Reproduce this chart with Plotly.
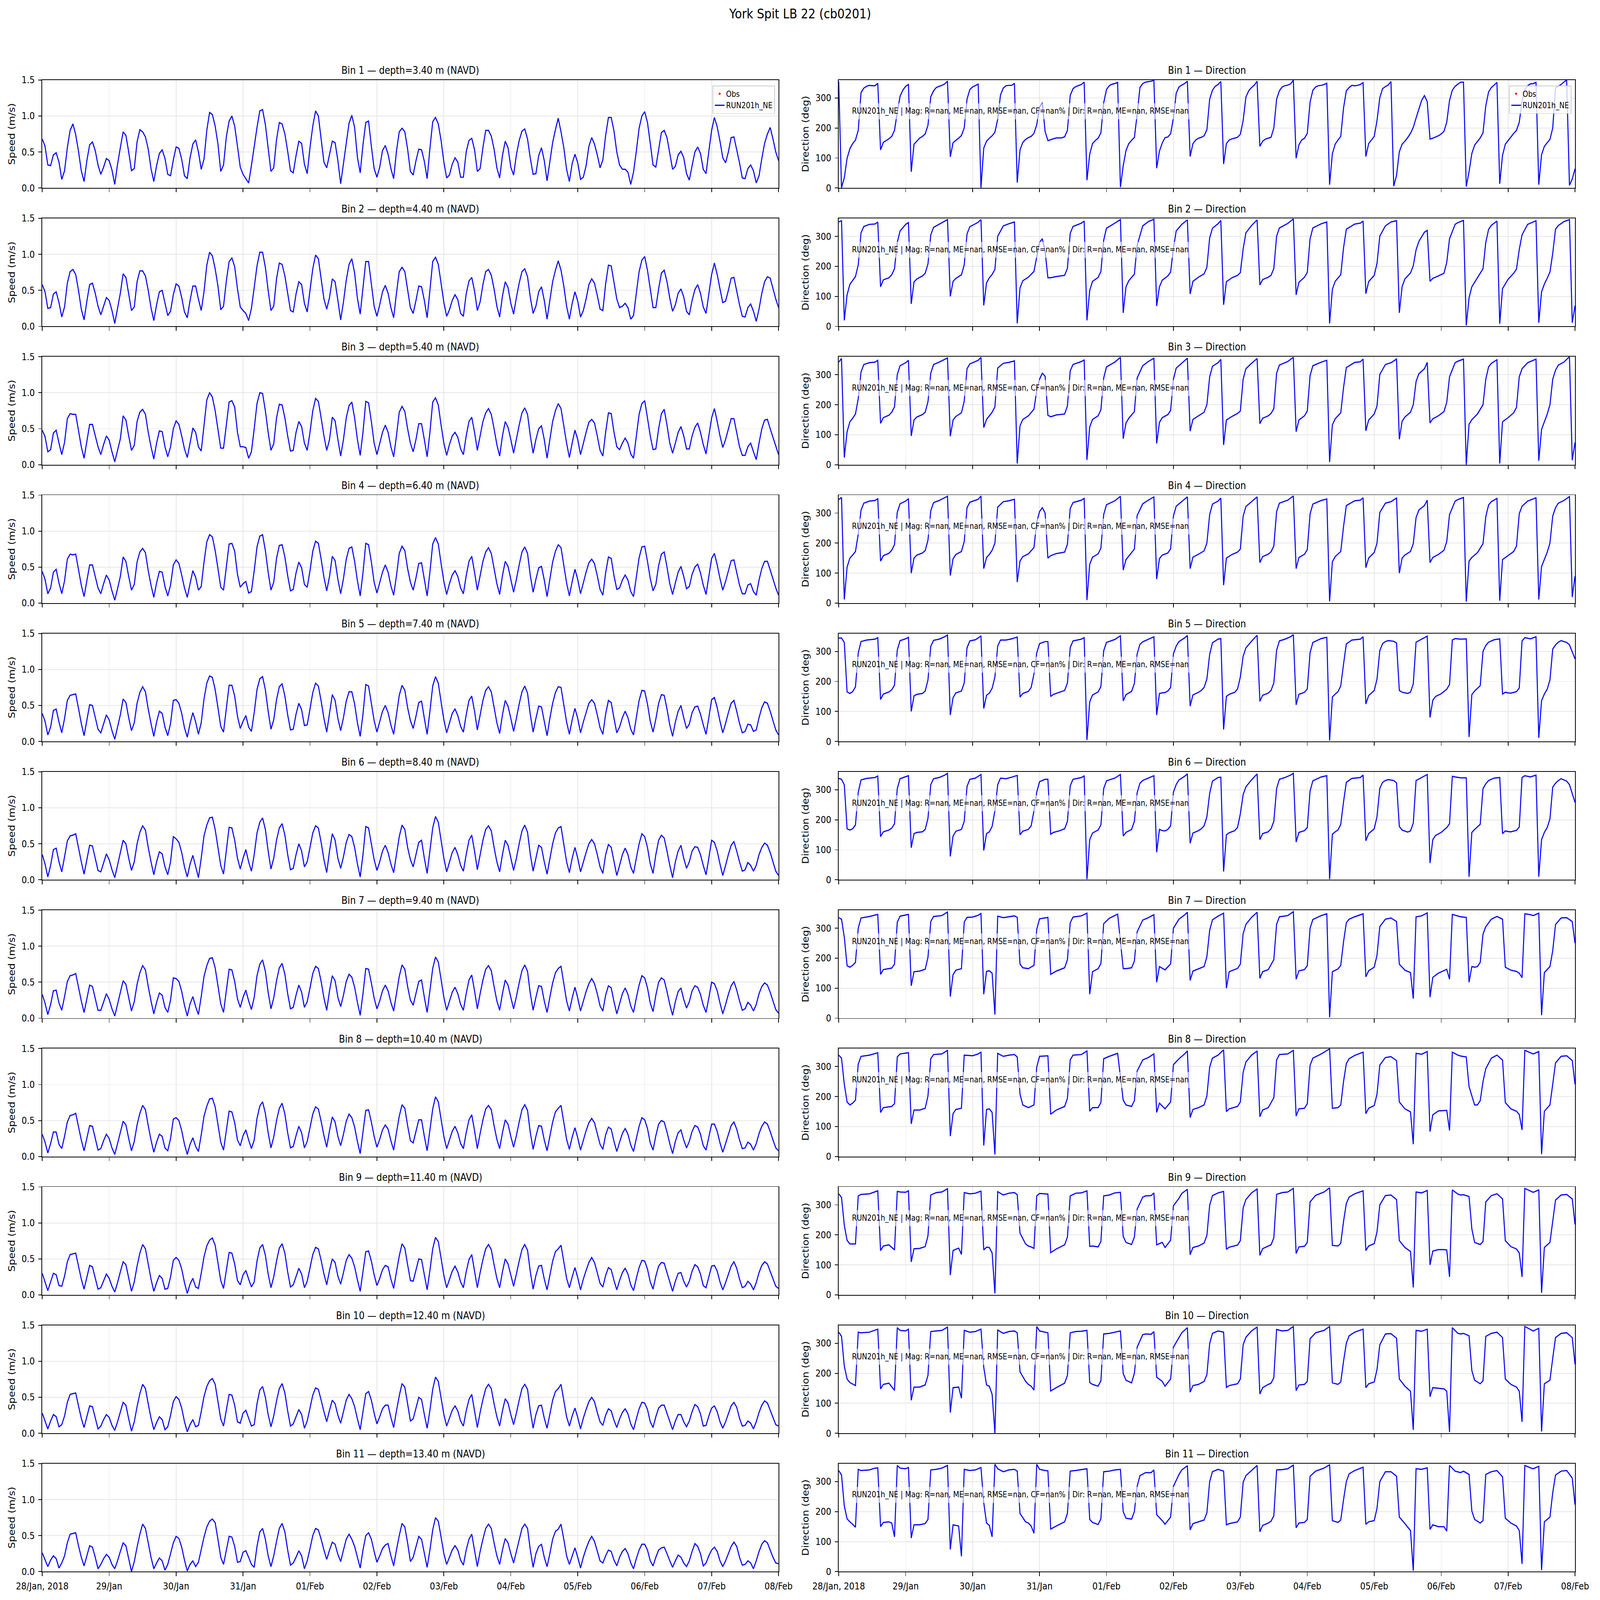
import numpy as np
import pandas as pd
import plotly.graph_objects as go

# ---------------- data ----------------
T0 = pd.Timestamp("2018-01-28 00:00:00")
tick_labels = ["28/Jan, 2018", "29/Jan", "30/Jan", "31/Jan", "01/Feb", "02/Feb",
               "03/Feb", "04/Feb", "05/Feb", "06/Feb", "07/Feb", "08/Feb"]
depths = [3.40, 4.40, 5.40, 6.40, 7.40, 8.40, 9.40, 10.40, 11.40, 12.40, 13.40]
run_name = "RUN201h_NE"
obs_name = "Obs"
stats_text = "RUN201h_NE | Mag: R=nan, ME=nan, RMSE=nan, CF=nan% | Dir: R=nan, ME=nan, RMSE=nan"

# hourly speed (m/s), 28 Jan 00:00 .. 08 Feb 00:00
spd_b1 = [.68,.58,.32,.31,.46,.49,.36,.12,.24,.56,.80,.89,.74,.51,.24,.09,.38,.60,.64,.52,.32,.19,.29,.41,
          .38,.25,.05,.33,.56,.78,.73,.50,.24,.27,.64,.81,.78,.71,.54,.27,.09,.31,.48,.53,.41,.19,.17,.39,
          .57,.55,.40,.17,.13,.42,.61,.67,.50,.26,.40,.80,1.05,1.02,.86,.61,.23,.32,.71,.93,1.00,.86,.58,.29,
          .19,.13,.07,.31,.58,.84,1.07,1.09,.88,.55,.23,.28,.67,.91,.89,.75,.51,.24,.21,.45,.65,.62,.33,.20,
          .56,.86,1.07,1.00,.67,.36,.28,.46,.65,.63,.38,.06,.34,.64,.90,1.01,.84,.43,.21,.60,.91,.93,.58,.27,
          .15,.29,.52,.59,.47,.27,.13,.51,.78,.83,.78,.54,.23,.18,.38,.54,.53,.37,.13,.55,.92,.98,.89,.66,
          .36,.14,.18,.33,.42,.36,.15,.15,.50,.66,.69,.53,.23,.27,.56,.80,.80,.72,.54,.28,.14,.45,.65,.56,
          .29,.18,.46,.66,.79,.82,.68,.41,.19,.20,.45,.56,.38,.10,.36,.63,.81,.97,.78,.56,.26,.09,.34,.47,
          .35,.12,.15,.31,.58,.70,.61,.46,.28,.39,.73,.98,.98,.79,.50,.32,.26,.26,.22,.05,.22,.51,.83,1.00,
          1.06,.91,.62,.32,.29,.53,.77,.80,.70,.48,.26,.30,.46,.51,.42,.20,.11,.31,.50,.57,.48,.26,.20,.51,
          .80,.98,.85,.65,.42,.35,.50,.70,.71,.53,.35,.14,.13,.27,.32,.24,.07,.17,.41,.62,.75,.84,.68,.50,
          .38]
spd_b2 = [.58,.48,.25,.26,.45,.48,.33,.13,.27,.60,.76,.79,.72,.50,.24,.09,.35,.58,.60,.46,.28,.16,.28,.40,
          .36,.22,.04,.26,.46,.73,.68,.45,.22,.27,.62,.77,.77,.70,.50,.26,.08,.30,.48,.50,.33,.15,.21,.44,
          .59,.56,.40,.20,.12,.36,.56,.56,.38,.22,.48,.85,1.03,.98,.80,.56,.23,.28,.63,.90,.95,.83,.52,.27,
          .22,.18,.08,.25,.54,.84,1.03,1.03,.82,.50,.22,.28,.66,.88,.86,.70,.46,.22,.20,.45,.62,.58,.32,.20,
          .50,.80,.99,.94,.66,.38,.24,.40,.66,.62,.36,.09,.34,.64,.86,.94,.74,.39,.17,.52,.90,.90,.59,.28,
          .14,.30,.48,.57,.46,.26,.12,.46,.76,.82,.76,.52,.26,.18,.36,.56,.55,.36,.12,.50,.90,.96,.86,.60,
          .33,.14,.23,.36,.44,.37,.18,.14,.45,.63,.68,.49,.22,.34,.58,.76,.79,.71,.52,.28,.13,.42,.62,.54,
          .32,.17,.40,.60,.76,.80,.69,.40,.18,.28,.48,.55,.36,.10,.36,.62,.78,.91,.78,.56,.28,.10,.32,.48,
          .35,.13,.22,.38,.58,.66,.60,.43,.24,.22,.59,.85,.84,.62,.38,.26,.28,.32,.26,.10,.15,.46,.76,.92,
          .97,.78,.51,.26,.26,.52,.74,.78,.62,.39,.21,.30,.46,.52,.41,.21,.16,.36,.51,.58,.46,.27,.18,.46,
          .72,.88,.72,.52,.33,.35,.50,.67,.68,.49,.30,.14,.13,.26,.31,.21,.07,.24,.46,.62,.69,.67,.53,.38,
          .26]
spd_b3 = [.48,.39,.18,.21,.44,.48,.30,.14,.31,.64,.71,.70,.70,.48,.25,.09,.32,.56,.56,.40,.25,.14,.28,.40,
          .34,.18,.04,.20,.36,.68,.62,.40,.20,.27,.60,.73,.77,.70,.45,.25,.08,.30,.47,.46,.25,.11,.25,.50,
          .61,.56,.40,.22,.10,.30,.51,.45,.25,.19,.55,.90,1.00,.94,.75,.50,.23,.23,.55,.87,.89,.80,.45,.25,
          .25,.24,.09,.18,.50,.85,1.00,.99,.75,.45,.20,.29,.65,.84,.83,.65,.40,.19,.20,.45,.60,.53,.30,.20,
          .45,.75,.92,.88,.65,.40,.20,.35,.66,.61,.35,.12,.35,.65,.82,.87,.65,.35,.13,.45,.88,.86,.60,.30,
          .14,.30,.45,.55,.45,.25,.11,.40,.73,.81,.74,.50,.30,.18,.35,.57,.57,.35,.11,.45,.87,.93,.83,.55,
          .30,.13,.28,.40,.45,.38,.22,.14,.40,.60,.66,.45,.20,.40,.60,.72,.78,.70,.50,.28,.12,.40,.60,.52,
          .35,.16,.35,.55,.72,.79,.70,.40,.16,.35,.50,.54,.35,.09,.35,.60,.75,.85,.78,.55,.30,.10,.30,.48,
          .35,.14,.30,.45,.59,.63,.58,.40,.20,.12,.45,.72,.71,.45,.25,.21,.30,.37,.30,.15,.09,.40,.70,.85,
          .89,.65,.40,.21,.22,.50,.71,.77,.55,.30,.16,.30,.45,.53,.40,.22,.22,.40,.52,.58,.45,.28,.15,.40,
          .65,.78,.60,.40,.24,.35,.50,.64,.64,.45,.25,.13,.13,.25,.30,.18,.07,.30,.50,.62,.63,.50,.38,.25,
          .14]
spd_b4 = [.44,.33,.13,.21,.43,.47,.28,.13,.31,.61,.68,.67,.68,.47,.25,.09,.31,.53,.53,.37,.21,.13,.27,.39,
          .32,.17,.04,.20,.37,.64,.58,.37,.18,.26,.57,.71,.76,.70,.45,.25,.08,.28,.44,.43,.23,.10,.25,.53,
          .60,.55,.39,.21,.08,.27,.45,.36,.18,.23,.57,.85,.95,.92,.73,.48,.22,.18,.50,.82,.83,.72,.40,.22,
          .27,.30,.14,.16,.45,.78,.93,.95,.73,.43,.18,.29,.62,.80,.81,.64,.38,.17,.19,.42,.57,.49,.26,.22,
          .45,.72,.86,.83,.61,.36,.17,.37,.65,.59,.33,.13,.34,.61,.76,.78,.58,.31,.10,.42,.83,.81,.57,.29,
          .14,.28,.43,.53,.43,.24,.11,.38,.69,.79,.73,.48,.29,.18,.35,.55,.56,.33,.10,.43,.82,.91,.82,.55,
          .30,.12,.27,.39,.45,.37,.21,.13,.38,.58,.65,.43,.18,.38,.58,.71,.77,.69,.48,.27,.12,.38,.58,.51,
          .33,.15,.33,.53,.71,.78,.69,.38,.15,.33,.49,.51,.32,.09,.33,.57,.72,.81,.77,.53,.28,.10,.30,.47,
          .33,.13,.28,.43,.56,.61,.55,.38,.19,.11,.42,.64,.62,.38,.19,.21,.32,.39,.32,.16,.09,.37,.63,.78,
          .79,.58,.34,.17,.26,.52,.68,.71,.50,.27,.12,.28,.43,.51,.37,.20,.23,.40,.50,.54,.42,.25,.12,.37,
          .62,.69,.53,.34,.18,.30,.45,.59,.60,.43,.25,.13,.13,.25,.27,.16,.11,.32,.48,.58,.58,.46,.34,.21,
          .11]
spd_b5 = [.39,.28,.09,.20,.43,.45,.27,.12,.32,.57,.64,.65,.66,.46,.25,.08,.29,.51,.50,.33,.17,.12,.25,.37,
          .30,.15,.03,.20,.37,.59,.54,.33,.15,.26,.53,.68,.76,.69,.45,.25,.07,.27,.42,.39,.20,.08,.25,.57,
          .58,.53,.39,.19,.06,.25,.40,.27,.10,.26,.59,.81,.91,.89,.72,.47,.21,.13,.45,.78,.78,.63,.35,.18,
          .28,.36,.20,.14,.40,.72,.87,.90,.72,.42,.17,.30,.58,.76,.80,.63,.37,.16,.17,.38,.53,.44,.22,.23,
          .45,.68,.81,.77,.56,.32,.13,.38,.65,.57,.32,.15,.33,.56,.69,.69,.52,.26,.07,.38,.79,.77,.53,.29,
          .13,.27,.42,.50,.40,.23,.10,.37,.64,.78,.71,.47,.29,.18,.35,.54,.56,.32,.10,.42,.77,.90,.81,.55,
          .30,.12,.26,.39,.45,.36,.21,.13,.37,.57,.63,.42,.16,.37,.57,.71,.76,.69,.47,.26,.11,.37,.57,.49,
          .32,.14,.32,.52,.69,.77,.67,.37,.13,.32,.49,.48,.28,.08,.32,.53,.68,.76,.75,.52,.27,.10,.30,.46,
          .32,.12,.27,.40,.53,.58,.53,.37,.19,.10,.38,.57,.54,.32,.12,.20,.33,.42,.33,.17,.09,.33,.57,.71,
          .70,.52,.28,.13,.31,.53,.65,.64,.45,.23,.07,.27,.42,.50,.33,.18,.24,.40,.48,.49,.38,.23,.10,.33,
          .58,.61,.47,.28,.12,.25,.40,.53,.57,.42,.25,.12,.14,.24,.23,.14,.16,.33,.47,.55,.53,.42,.29,.16,
          .09]
spd_b6 = [.35,.22,.04,.20,.42,.44,.25,.11,.32,.54,.61,.62,.64,.45,.25,.08,.28,.48,.47,.30,.13,.11,.24,.36,
          .28,.14,.03,.20,.38,.55,.50,.30,.13,.25,.50,.66,.75,.69,.45,.25,.07,.25,.39,.36,.18,.07,.25,.60,
          .57,.52,.38,.18,.04,.22,.34,.18,.03,.30,.61,.76,.86,.87,.70,.45,.20,.08,.40,.73,.72,.55,.30,.15,
          .30,.42,.25,.12,.35,.65,.80,.86,.70,.40,.15,.30,.55,.72,.78,.62,.35,.14,.16,.35,.50,.40,.18,.25,
          .45,.65,.75,.72,.52,.28,.10,.40,.64,.55,.30,.16,.32,.52,.63,.60,.45,.22,.04,.35,.74,.72,.50,.28,
          .13,.25,.40,.48,.38,.22,.10,.35,.60,.76,.70,.45,.28,.18,.35,.52,.55,.30,.09,.40,.72,.88,.80,.55,
          .30,.11,.25,.38,.45,.35,.20,.12,.35,.55,.62,.40,.14,.35,.55,.70,.75,.68,.45,.25,.11,.35,.55,.48,
          .30,.13,.30,.50,.68,.76,.66,.35,.12,.30,.48,.45,.25,.08,.30,.50,.65,.72,.74,.50,.25,.10,.30,.45,
          .30,.11,.25,.38,.50,.56,.50,.35,.18,.09,.35,.49,.45,.25,.06,.20,.35,.44,.35,.18,.09,.30,.50,.64,
          .60,.45,.22,.09,.35,.55,.62,.58,.40,.20,.03,.25,.40,.48,.30,.16,.25,.40,.46,.45,.35,.20,.07,.30,
          .55,.52,.40,.22,.06,.20,.35,.48,.53,.40,.25,.12,.14,.24,.20,.12,.20,.35,.45,.51,.48,.38,.25,.12,
          .06]
spd_b7 = [.33,.21,.05,.19,.38,.39,.21,.11,.30,.51,.59,.60,.62,.43,.24,.08,.27,.46,.44,.28,.11,.11,.23,.34,
          .26,.13,.03,.19,.36,.52,.47,.28,.10,.23,.47,.63,.73,.67,.44,.24,.06,.22,.35,.32,.15,.08,.25,.56,
          .55,.51,.37,.18,.03,.20,.30,.16,.05,.30,.58,.73,.83,.84,.70,.45,.20,.08,.38,.68,.67,.51,.27,.15,
          .29,.39,.24,.12,.29,.59,.75,.81,.65,.36,.13,.28,.52,.70,.76,.61,.34,.13,.15,.32,.46,.36,.15,.23,
          .42,.62,.72,.69,.51,.28,.11,.38,.59,.52,.29,.16,.32,.51,.61,.57,.43,.22,.04,.34,.69,.68,.49,.28,
          .13,.24,.38,.46,.38,.22,.10,.34,.58,.74,.68,.44,.25,.18,.35,.51,.53,.29,.08,.38,.69,.85,.78,.54,
          .29,.11,.24,.36,.43,.34,.19,.11,.34,.53,.60,.38,.13,.34,.53,.68,.73,.66,.44,.24,.11,.34,.53,.46,
          .29,.13,.30,.49,.66,.74,.65,.34,.11,.29,.45,.44,.24,.08,.29,.49,.63,.69,.72,.49,.24,.10,.28,.43,
          .28,.10,.24,.37,.48,.55,.48,.34,.17,.10,.32,.45,.42,.23,.06,.20,.34,.42,.33,.17,.08,.28,.46,.59,
          .56,.42,.21,.09,.32,.50,.56,.53,.37,.19,.04,.23,.37,.42,.26,.14,.23,.38,.45,.43,.33,.18,.08,.28,
          .50,.48,.38,.21,.06,.19,.33,.45,.51,.39,.24,.11,.13,.22,.18,.10,.19,.34,.44,.49,.46,.36,.24,.12,
          .07]
spd_b8 = [.31,.20,.05,.18,.34,.34,.17,.11,.28,.48,.57,.58,.60,.41,.23,.08,.26,.43,.42,.26,.09,.11,.22,.31,
          .25,.12,.03,.18,.34,.49,.44,.25,.08,.21,.44,.60,.71,.65,.43,.23,.06,.20,.31,.28,.12,.08,.25,.52,
          .54,.50,.36,.17,.03,.17,.26,.14,.07,.30,.56,.70,.80,.81,.69,.45,.20,.09,.36,.63,.62,.47,.23,.15,
          .29,.37,.23,.11,.23,.53,.70,.76,.60,.33,.12,.27,.50,.67,.74,.59,.33,.12,.14,.29,.42,.33,.12,.21,
          .40,.59,.69,.66,.49,.29,.13,.36,.55,.48,.28,.15,.31,.49,.59,.54,.41,.21,.04,.33,.64,.65,.48,.28,
          .13,.24,.37,.44,.38,.22,.09,.33,.56,.72,.67,.43,.22,.19,.35,.51,.51,.28,.08,.36,.66,.83,.76,.52,
          .28,.11,.23,.35,.42,.33,.18,.11,.33,.51,.58,.36,.11,.32,.51,.66,.71,.65,.43,.24,.11,.33,.51,.45,
          .28,.13,.29,.48,.65,.72,.64,.33,.10,.28,.43,.42,.23,.08,.28,.48,.62,.67,.71,.48,.24,.10,.27,.40,
          .26,.09,.23,.36,.47,.53,.47,.32,.17,.10,.30,.41,.38,.21,.07,.20,.32,.39,.31,.16,.07,.25,.42,.54,
          .51,.39,.19,.09,.29,.45,.50,.48,.34,.18,.04,.21,.33,.37,.23,.12,.21,.35,.43,.41,.31,.15,.09,.27,
          .45,.45,.35,.19,.06,.18,.31,.43,.48,.38,.23,.11,.12,.20,.17,.09,.18,.32,.42,.48,.45,.35,.23,.12,
          .08]
spd_b9 = [.30,.18,.06,.18,.30,.28,.13,.12,.26,.46,.56,.57,.58,.40,.22,.08,.24,.41,.39,.24,.08,.10,.20,.29,
          .23,.12,.04,.17,.32,.46,.42,.23,.05,.18,.40,.58,.70,.64,.42,.22,.05,.17,.27,.23,.08,.09,.25,.48,
          .52,.48,.36,.17,.02,.15,.23,.11,.09,.30,.53,.68,.76,.79,.69,.45,.20,.09,.34,.59,.58,.43,.20,.14,
          .28,.34,.22,.11,.18,.47,.65,.70,.55,.29,.10,.25,.47,.65,.71,.58,.32,.11,.14,.26,.37,.29,.10,.19,
          .37,.56,.66,.64,.48,.29,.14,.34,.50,.45,.26,.15,.31,.48,.56,.51,.39,.21,.05,.32,.60,.61,.47,.28,
          .13,.23,.35,.41,.39,.22,.09,.32,.54,.71,.65,.42,.20,.19,.35,.50,.49,.27,.07,.34,.64,.80,.74,.51,
          .27,.10,.22,.33,.40,.32,.18,.10,.32,.49,.56,.34,.10,.31,.49,.64,.70,.63,.42,.23,.10,.32,.50,.43,
          .27,.12,.29,.47,.63,.70,.62,.32,.08,.27,.40,.41,.22,.07,.27,.47,.60,.64,.69,.47,.23,.10,.25,.38,
          .24,.07,.22,.34,.45,.52,.45,.31,.16,.11,.27,.38,.35,.20,.07,.20,.31,.37,.29,.14,.06,.23,.38,.48,
          .47,.36,.18,.08,.26,.40,.45,.44,.31,.17,.05,.19,.30,.31,.19,.11,.19,.33,.42,.39,.29,.13,.10,.25,
          .40,.41,.33,.18,.07,.17,.29,.40,.46,.37,.22,.10,.12,.19,.15,.07,.17,.31,.41,.46,.43,.33,.22,.12,
          .09]
spd_b10 = [.28,.17,.06,.17,.26,.23,.09,.12,.24,.43,.54,.55,.56,.38,.21,.08,.23,.38,.37,.22,.06,.10,.19,.26,
           .22,.11,.04,.16,.30,.43,.39,.20,.03,.16,.37,.55,.68,.62,.41,.21,.05,.15,.23,.19,.05,.09,.25,.44,
           .51,.47,.35,.16,.02,.12,.19,.09,.11,.30,.51,.65,.73,.76,.68,.45,.20,.10,.32,.54,.53,.39,.16,.14,
           .28,.32,.21,.10,.12,.41,.60,.65,.50,.26,.09,.24,.45,.62,.69,.56,.31,.10,.13,.23,.33,.26,.07,.17,
           .35,.53,.63,.61,.46,.30,.16,.32,.46,.41,.25,.14,.30,.46,.54,.48,.37,.20,.05,.31,.55,.58,.46,.28,
           .13,.23,.34,.39,.39,.22,.08,.31,.52,.69,.64,.41,.17,.20,.35,.50,.47,.26,.07,.32,.61,.78,.72,.49,
           .26,.10,.21,.32,.38,.31,.17,.10,.31,.47,.54,.32,.08,.29,.47,.62,.68,.62,.41,.23,.10,.31,.48,.42,
           .26,.12,.28,.46,.62,.68,.61,.31,.07,.26,.38,.39,.21,.07,.26,.46,.58,.62,.68,.46,.23,.10,.24,.35,
           .22,.06,.21,.33,.44,.50,.44,.29,.16,.11,.25,.34,.31,.18,.08,.20,.29,.34,.27,.13,.05,.20,.34,.43,
           .42,.33,.16,.08,.23,.35,.39,.39,.28,.16,.05,.17,.26,.26,.16,.09,.17,.30,.40,.37,.27,.10,.11,.24,
           .35,.38,.30,.16,.07,.16,.27,.38,.43,.36,.21,.10,.11,.17,.14,.06,.16,.29,.39,.45,.42,.32,.21,.12,
           .10]
spd_b11 = [.26,.16,.07,.16,.22,.18,.05,.12,.22,.40,.52,.53,.54,.36,.20,.08,.22,.36,.34,.20,.04,.10,.18,.24,
           .20,.10,.04,.15,.28,.40,.36,.18,.00,.14,.34,.52,.66,.60,.40,.20,.04,.12,.19,.15,.02,.10,.25,.40,
           .49,.46,.34,.16,.01,.10,.15,.07,.13,.30,.48,.62,.70,.73,.68,.45,.20,.10,.30,.49,.48,.35,.13,.14,
           .27,.29,.20,.10,.06,.35,.55,.60,.45,.22,.07,.22,.42,.60,.67,.55,.30,.09,.12,.20,.29,.22,.04,.15,
           .32,.50,.60,.58,.45,.30,.17,.30,.41,.38,.24,.14,.30,.45,.52,.45,.35,.20,.05,.30,.50,.54,.45,.28,
           .13,.22,.32,.37,.39,.22,.08,.30,.50,.67,.62,.40,.14,.20,.35,.49,.45,.25,.06,.30,.58,.75,.70,.48,
           .25,.10,.20,.30,.36,.30,.16,.09,.30,.45,.52,.30,.07,.28,.45,.60,.66,.60,.40,.22,.10,.30,.46,.40,
           .25,.12,.28,.45,.60,.66,.60,.30,.06,.25,.35,.38,.20,.07,.25,.45,.56,.59,.66,.45,.22,.10,.22,.33,
           .20,.05,.20,.32,.42,.49,.42,.28,.15,.12,.22,.30,.28,.16,.08,.20,.28,.32,.25,.12,.04,.18,.30,.38,
           .38,.30,.15,.08,.20,.30,.33,.34,.25,.15,.06,.15,.23,.20,.12,.07,.15,.28,.39,.35,.25,.08,.12,.22,
           .30,.34,.28,.15,.07,.15,.25,.35,.41,.35,.20,.09,.10,.15,.12,.04,.15,.28,.38,.43,.40,.30,.20,.12,
           .11]

# hourly direction (deg) for bin 1
dir_b1 = [355,1,34,99,131,148,160,192,318,333,339,342,341,341,349,127,152,158,164,172,192,253,306,326,
          339,345,54,146,156,166,172,180,209,304,324,335,339,342,347,356,104,151,159,166,175,200,296,328,
          337,341,346,1,133,156,166,174,186,229,310,333,341,342,342,349,18,127,152,162,168,172,182,211,
          270,284,188,158,161,164,167,167,167,171,192,308,331,338,341,345,353,26,113,148,158,166,184,284,
          328,341,346,348,352,3,74,125,148,159,168,245,335,348,353,355,356,359,66,123,150,168,170,181,
          233,316,337,343,348,356,105,148,160,166,169,174,194,296,326,339,345,355,80,148,160,164,166,169,
          179,225,303,324,335,343,356,139,156,163,166,169,200,296,324,337,341,343,347,359,99,144,160,166,
          182,286,326,337,341,342,345,349,11,115,146,160,172,267,324,335,342,341,342,345,351,105,148,160,
          172,225,301,331,338,343,355,6,42,121,146,156,168,182,202,233,263,292,308,288,163,166,170,174,
          180,189,219,292,326,339,346,353,353,5,54,115,143,155,167,184,274,320,335,343,352,14,109,146,
          158,170,182,192,219,290,328,341,347,348,352,11,111,139,151,162,200,333,339,345,353,360,9,30,
          64]

# direction (hour since 28 Jan 00:00, deg) for bins 2-11
dir_b2 = [(0,348),(1,352),(2,20),(3,105),(4,140),(5,153),(6,166),(7,205),(8,312),(9,333),(11,340),(13,341),(14,348),(15,132),(16,155),(18,162),(19,172),(20,192),(21,280),(22,318),(24,340),(25,346),(26,75),(27,148),(28,158),(30,168),(31,177),(32,208),(33,305),(34,330),(36,340),(39,356),(40,100),(41,150),(42,160),(44,172),(45,205),(46,308),(47,332),(50,347),(51,356),(52,70),(53,145),(54,162),(55,173),(56,190),(57,300),(59,335),(61,342),(63,348),(64,10),(65,128),(66,152),(68,164),(70,183),(71,230),(72,280),(73,292),(74,250),(75,162),(76,162),(78,166),(81,170),(82,194),(83,310),(84,333),(87,344),(88,351),(89,20),(90,120),(91,150),(93,163),(94,183),(95,287),(96,327),(99,344),(101,356),(102,45),(103,132),(104,152),(106,174),(107,270),(109,335),(111,349),(113,357),(114,68),(115,132),(116,154),(118,168),(119,181),(120,260),(121,318),(123,340),(125,355),(126,108),(127,150),(129,164),(131,175),(132,197),(133,295),(134,327),(136,342),(137,353),(138,72),(139,149),(141,162),(143,170),(144,179),(145,258),(146,312),(148,336),(150,355),(151,138),(152,156),(154,164),(155,170),(156,193),(157,300),(158,328),(161,343),(163,358),(164,105),(165,147),(167,164),(168,180),(169,292),(170,328),(173,342),(175,348),(176,10),(177,124),(178,150),(180,172),(181,262),(182,324),(185,341),(187,344),(188,351),(189,109),(190,149),(192,170),(193,210),(194,301),(196,335),(198,348),(200,352),(201,45),(202,133),(203,158),(205,178),(206,202),(207,255),(208,283),(210,314),(211,320),(212,150),(213,160),(215,168),(217,177),(218,213),(219,292),(221,340),(222,346),(224,353),(225,3),(226,95),(227,132),(229,162),(231,192),(232,280),(233,323),(234,337),(236,351),(237,9),(238,126),(240,157),(242,177),(243,191),(244,256),(245,305),(247,340),(250,352),(251,12),(252,115),(253,141),(254,160),(255,181),(256,243),(257,324),(258,336),(260,349),(262,356),(263,12),(264,69)]
dir_b3 = [(0,342),(1,354),(2,24),(3,110),(4,143),(5,155),(6,169),(7,220),(8,309),(9,334),(11,340),(13,342),(14,348),(15,138),(16,157),(18,165),(19,175),(20,193),(21,301),(22,330),(24,340),(25,348),(26,96),(27,149),(28,159),(30,167),(31,175),(32,210),(33,305),(34,334),(36,342),(39,356),(40,95),(41,149),(42,161),(44,173),(45,212),(46,320),(47,336),(50,348),(51,358),(52,124),(53,151),(54,163),(55,175),(56,193),(57,322),(59,338),(61,341),(63,346),(64,4),(65,130),(66,151),(68,163),(70,185),(71,248),(72,285),(73,305),(74,295),(75,165),(76,160),(78,166),(81,169),(82,196),(83,313),(84,334),(87,344),(88,349),(89,16),(90,126),(91,151),(93,163),(94,183),(95,289),(96,326),(99,342),(101,358),(102,87),(103,139),(104,155),(106,177),(107,289),(109,330),(111,344),(113,355),(114,71),(115,141),(116,157),(118,167),(119,181),(120,285),(121,322),(123,338),(125,355),(126,112),(127,151),(129,163),(131,175),(132,200),(133,293),(134,328),(136,340),(137,351),(138,66),(139,149),(141,161),(143,171),(144,179),(145,285),(146,320),(148,338),(150,354),(151,137),(152,155),(154,163),(155,171),(156,187),(157,305),(158,332),(161,344),(163,358),(164,110),(165,149),(167,163),(168,179),(169,297),(170,330),(173,342),(175,348),(176,9),(177,133),(178,153),(180,173),(181,257),(182,324),(185,341),(187,343),(188,352),(189,113),(190,149),(192,169),(193,196),(194,301),(196,334),(198,340),(200,352),(201,85),(202,145),(203,159),(205,175),(206,200),(207,277),(208,303),(210,320),(211,341),(212,139),(213,153),(215,163),(217,177),(218,208),(219,293),(221,340),(222,345),(224,352),(225,0),(226,135),(227,150),(229,169),(231,200),(232,285),(233,326),(234,338),(236,350),(237,4),(238,143),(240,157),(242,173),(243,191),(244,293),(245,320),(247,340),(250,352),(251,13),(252,118),(253,143),(254,168),(255,200),(256,285),(257,315),(258,332),(260,342),(262,360),(263,15),(264,74)]
dir_b4 = [(0,345),(1,352),(2,12),(3,120),(4,150),(5,160),(6,172),(7,230),(8,310),(9,333),(11,340),(13,342),(14,348),(15,140),(16,158),(18,166),(19,176),(20,195),(21,303),(22,331),(24,340),(25,348),(26,100),(27,150),(28,160),(30,167),(31,175),(32,210),(33,308),(34,335),(36,342),(39,356),(40,92),(41,148),(42,162),(44,172),(45,205),(46,318),(47,336),(50,346),(51,357),(52,115),(53,152),(54,162),(55,176),(56,200),(57,320),(59,338),(61,341),(63,346),(64,70),(65,140),(66,155),(68,164),(70,185),(71,270),(72,305),(73,318),(74,300),(75,150),(76,158),(78,165),(81,170),(82,196),(83,315),(84,335),(87,343),(88,349),(89,10),(90,130),(91,153),(93,164),(94,183),(95,295),(96,328),(99,341),(101,356),(102,110),(103,145),(104,157),(106,180),(107,292),(109,331),(111,343),(113,354),(114,80),(115,148),(116,160),(118,167),(119,181),(120,290),(121,323),(123,338),(125,354),(126,115),(127,153),(129,163),(131,174),(132,200),(133,295),(134,330),(136,340),(137,350),(138,60),(139,150),(141,162),(143,170),(144,180),(145,290),(146,322),(148,338),(150,354),(151,135),(152,155),(154,163),(155,171),(156,190),(157,305),(158,333),(161,343),(163,357),(164,115),(165,152),(167,163),(168,178),(169,297),(170,330),(173,342),(175,347),(176,6),(177,138),(178,155),(180,172),(181,255),(182,325),(185,341),(187,343),(188,351),(189,118),(190,150),(192,169),(193,200),(194,302),(196,333),(198,338),(200,350),(201,100),(202,150),(203,160),(205,172),(206,198),(207,285),(208,310),(210,325),(211,343),(212,135),(213,152),(215,162),(217,176),(218,205),(219,295),(221,340),(222,345),(224,352),(225,5),(226,140),(227,152),(229,168),(231,198),(232,288),(233,327),(234,338),(236,349),(237,8),(238,145),(240,158),(242,172),(243,190),(244,298),(245,323),(247,340),(250,351),(251,12),(252,122),(253,146),(254,169),(255,200),(256,290),(257,318),(258,333),(260,342),(262,355),(263,20),(264,90)]
dir_b5 = [(0,345),(1,345),(2,330),(3,165),(4,160),(5,166),(6,182),(7,295),(8,333),(10,338),(13,341),(14,346),(15,140),(16,158),(18,165),(19,172),(20,188),(21,305),(22,336),(24,342),(25,347),(26,100),(27,152),(28,157),(30,160),(31,168),(32,205),(33,317),(34,337),(36,341),(38,349),(39,355),(40,88),(41,146),(42,162),(44,168),(45,195),(46,312),(47,335),(49,339),(50,345),(51,352),(52,110),(53,154),(54,161),(55,177),(56,215),(57,318),(58,338),(60,338),(62,342),(64,348),(65,148),(66,160),(68,167),(69,180),(70,225),(71,295),(72,326),(74,333),(75,333),(76,150),(77,157),(79,163),(81,170),(82,195),(83,313),(84,335),(87,341),(88,346),(89,5),(90,132),(91,155),(93,165),(94,183),(95,302),(96,330),(99,340),(101,352),(102,135),(103,156),(105,167),(106,193),(107,292),(108,324),(109,332),(111,340),(113,349),(114,88),(115,160),(116,162),(117,163),(118,168),(119,180),(120,292),(121,318),(122,333),(124,345),(125,353),(126,118),(127,155),(129,164),(130,170),(131,180),(132,208),(133,290),(134,329),(136,341),(137,343),(138,40),(139,150),(140,157),(142,164),(143,175),(144,215),(145,284),(146,312),(148,334),(150,354),(151,134),(152,154),(154,161),(155,170),(156,195),(157,304),(158,335),(160,341),(162,349),(163,356),(164,122),(165,157),(167,164),(168,175),(169,296),(170,330),(173,343),(175,347),(176,3),(177,148),(178,158),(179,166),(180,185),(181,258),(182,325),(184,338),(187,341),(188,349),(189,125),(190,153),(192,170),(193,208),(194,303),(195,326),(196,333),(197,336),(199,334),(200,328),(201,170),(202,164),(204,160),(205,164),(206,192),(207,331),(209,341),(211,351),(212,80),(213,137),(214,150),(216,159),(218,174),(219,190),(220,338),(221,343),(223,341),(225,342),(226,15),(227,156),(228,168),(230,186),(231,300),(232,320),(233,331),(235,339),(237,342),(238,158),(239,164),(240,162),(241,161),(243,166),(244,178),(245,335),(246,346),(248,342),(250,349),(251,12),(252,136),(253,158),(254,174),(255,205),(256,308),(257,322),(258,331),(259,336),(261,330),(262,322),(264,275)]
dir_b6 = [(0,338),(1,335),(2,317),(3,170),(4,166),(5,170),(6,183),(7,292),(8,333),(10,338),(13,341),(14,346),(15,144),(16,160),(18,166),(19,172),(20,187),(21,304),(22,337),(24,343),(25,347),(26,107),(27,154),(28,158),(30,160),(31,168),(32,205),(33,317),(34,337),(36,341),(38,349),(39,355),(40,78),(41,146),(42,162),(44,168),(45,195),(46,311),(47,335),(49,339),(50,345),(51,351),(52,98),(53,154),(54,160),(55,178),(56,230),(57,317),(58,339),(60,337),(62,342),(64,348),(65,150),(66,162),(68,168),(69,180),(70,230),(71,292),(72,327),(74,335),(75,335),(76,152),(77,158),(79,163),(81,170),(82,195),(83,313),(84,335),(87,341),(88,346),(89,2),(90,134),(91,156),(93,166),(94,183),(95,304),(96,330),(99,339),(101,351),(102,146),(103,158),(105,168),(106,195),(107,290),(108,322),(109,331),(111,339),(113,347),(114,92),(115,168),(116,164),(117,163),(118,168),(119,180),(120,292),(121,318),(122,333),(124,345),(125,353),(126,122),(127,156),(129,164),(130,170),(131,180),(132,210),(133,288),(134,329),(136,341),(137,342),(138,28),(139,150),(140,157),(142,164),(143,175),(144,220),(145,284),(146,310),(148,333),(150,353),(151,134),(152,154),(154,160),(155,170),(156,195),(157,304),(158,335),(160,341),(162,349),(163,355),(164,126),(165,158),(167,164),(168,174),(169,296),(170,330),(173,343),(175,347),(176,2),(177,152),(178,160),(179,166),(180,185),(181,260),(182,325),(184,338),(187,341),(188,349),(189,130),(190,154),(192,170),(193,211),(194,305),(195,325),(196,331),(197,334),(199,331),(200,323),(201,178),(202,166),(204,159),(205,163),(206,189),(207,331),(209,341),(211,351),(212,56),(213,134),(214,148),(216,158),(218,174),(219,187),(220,345),(221,343),(223,340),(225,340),(226,10),(227,158),(228,168),(230,185),(231,304),(232,320),(233,331),(235,339),(237,341),(238,154),(239,163),(240,161),(241,160),(243,165),(244,176),(245,341),(246,347),(248,343),(250,349),(251,10),(252,134),(253,158),(254,174),(255,203),(256,309),(257,322),(258,331),(259,337),(261,329),(262,317),(264,258)]
dir_b7 = [(0,335),(1,330),(2,270),(3,175),(4,170),(5,176),(6,186),(7,300),(8,334),(11,339),(14,346),(15,146),(16,162),(19,167),(20,180),(21,320),(22,340),(25,346),(26,108),(27,155),(29,157),(31,163),(32,203),(33,322),(34,339),(37,342),(39,354),(40,72),(41,145),(42,160),(44,165),(45,320),(46,336),(48,337),(50,343),(51,349),(52,80),(53,156),(54,158),(55,150),(56,12),(57,340),(59,335),(61,338),(63,341),(64,336),(65,180),(66,168),(68,165),(70,176),(71,296),(72,331),(75,336),(76,146),(78,157),(81,168),(82,195),(83,318),(84,337),(87,341),(89,350),(90,80),(91,155),(93,165),(94,182),(95,315),(97,333),(100,347),(102,165),(103,165),(105,168),(106,190),(107,288),(109,327),(111,335),(113,345),(114,120),(115,172),(117,161),(119,181),(120,300),(122,330),(124,344),(125,353),(126,126),(127,157),(129,164),(131,172),(132,205),(133,293),(134,328),(136,340),(138,350),(139,100),(140,155),(143,166),(144,180),(145,282),(146,313),(148,336),(150,353),(151,133),(152,155),(154,162),(156,195),(157,313),(158,338),(161,342),(163,355),(164,130),(165,158),(167,162),(168,175),(169,300),(170,329),(173,342),(175,348),(176,3),(177,155),(179,164),(180,176),(181,255),(182,318),(183,330),(185,338),(188,348),(189,138),(190,158),(192,170),(193,210),(194,305),(196,330),(198,334),(200,322),(201,180),(203,160),(205,152),(206,65),(207,338),(209,341),(211,351),(212,70),(213,136),(215,150),(218,163),(219,130),(220,346),(222,340),(223,338),(225,336),(226,120),(227,172),(228,170),(229,172),(230,186),(231,280),(232,305),(234,330),(236,339),(238,330),(239,170),(241,160),(243,156),(244,150),(245,135),(246,348),(248,345),(249,342),(251,350),(252,10),(253,152),(255,172),(256,225),(257,312),(259,334),(261,335),(263,322),(264,250)]
dir_b8 = [(0,338),(1,328),(2,241),(3,182),(4,172),(5,178),(6,188),(7,308),(8,334),(11,338),(14,346),(15,147),(16,163),(19,167),(20,176),(21,332),(22,342),(25,346),(26,109),(27,155),(29,155),(31,161),(32,202),(33,326),(34,340),(37,342),(39,354),(40,68),(41,143),(42,157),(44,161),(45,338),(48,336),(50,342),(51,348),(52,37),(53,157),(54,159),(55,147),(56,7),(57,344),(59,334),(61,338),(63,340),(64,332),(65,208),(66,172),(68,163),(70,172),(71,298),(72,334),(75,336),(76,141),(78,155),(81,167),(82,194),(83,322),(84,338),(87,340),(89,352),(90,151),(91,163),(93,163),(94,180),(95,326),(97,334),(100,344),(102,188),(103,172),(105,167),(106,186),(107,285),(109,322),(111,330),(113,342),(114,147),(115,178),(117,159),(119,182),(120,306),(122,326),(124,342),(125,352),(126,130),(127,157),(129,163),(131,172),(132,202),(133,298),(134,328),(136,338),(138,356),(139,150),(140,159),(143,167),(144,182),(145,281),(146,315),(148,338),(150,352),(151,133),(152,155),(154,163),(156,196),(157,322),(158,340),(161,342),(163,354),(164,135),(165,159),(167,161),(168,176),(169,304),(170,328),(173,342),(176,359),(177,161),(179,163),(180,172),(181,250),(182,310),(183,326),(185,337),(188,348),(189,143),(190,161),(192,170),(193,208),(194,305),(196,330),(198,333),(200,320),(201,182),(203,159),(205,149),(206,41),(207,344),(209,341),(211,350),(212,83),(213,139),(215,152),(218,154),(219,87),(220,348),(222,338),(223,335),(225,332),(226,233),(228,172),(229,172),(230,186),(231,250),(232,293),(234,328),(236,338),(238,322),(239,180),(241,159),(243,151),(244,140),(245,89),(246,354),(248,346),(249,342),(251,350),(252,8),(253,151),(255,172),(256,241),(257,312),(259,334),(261,336),(263,320),(264,241)]
dir_b9 = [(0,337),(1,325),(2,232),(3,182),(4,170),(6,170),(7,330),(8,335),(11,337),(14,347),(15,148),(16,163),(18,167),(20,150),(21,345),(22,343),(24,342),(25,347),(26,110),(27,154),(29,155),(31,161),(32,197),(33,333),(35,341),(37,343),(39,354),(40,66),(41,148),(43,156),(44,135),(45,341),(47,337),(49,339),(51,346),(52,150),(53,159),(54,158),(55,140),(56,5),(57,344),(59,333),(61,339),(63,341),(64,334),(65,206),(67,170),(68,163),(69,160),(70,155),(71,330),(72,338),(74,337),(75,336),(76,141),(78,153),(81,167),(82,193),(83,330),(85,339),(87,340),(89,347),(90,162),(91,163),(93,160),(94,178),(95,330),(97,333),(99,340),(101,342),(102,195),(103,175),(105,168),(106,193),(107,286),(109,326),(110,330),(112,331),(113,340),(114,167),(116,175),(117,158),(119,182),(120,297),(122,322),(123,338),(125,352),(126,134),(127,158),(129,163),(131,173),(132,198),(133,299),(134,331),(136,340),(138,345),(139,152),(140,159),(143,166),(144,181),(145,290),(146,318),(148,340),(150,353),(151,132),(152,154),(154,163),(155,167),(156,190),(157,335),(159,341),(161,343),(163,355),(164,138),(165,160),(167,162),(168,175),(169,310),(171,332),(174,343),(176,357),(177,165),(179,163),(180,172),(181,245),(182,305),(183,326),(185,337),(188,347),(189,148),(190,163),(192,171),(193,210),(194,300),(196,331),(198,333),(200,318),(201,181),(203,158),(205,145),(206,25),(207,343),(209,340),(211,348),(212,100),(213,146),(215,151),(217,151),(218,150),(219,60),(220,350),(222,336),(223,333),(224,334),(226,328),(227,220),(228,175),(230,168),(231,178),(232,310),(234,331),(236,337),(238,320),(239,181),(241,161),(243,153),(244,140),(245,60),(246,355),(248,346),(249,342),(251,350),(252,7),(253,158),(255,175),(256,245),(257,316),(259,333),(261,335),(263,320),(264,235)]
dir_b10 = [(0,337),(1,323),(2,224),(3,181),(4,169),(6,159),(7,337),(8,335),(11,337),(14,347),(15,148),(16,163),(18,167),(20,143),(21,352),(22,343),(24,341),(25,347),(26,110),(27,154),(29,154),(31,161),(32,193),(33,339),(35,341),(37,343),(39,354),(40,69),(41,152),(43,154),(44,117),(45,343),(47,337),(49,339),(51,347),(52,220),(53,161),(54,157),(55,130),(56,0),(57,344),(59,333),(61,339),(63,341),(64,335),(65,205),(67,173),(68,163),(69,157),(70,144),(71,356),(72,341),(74,337),(75,335),(76,141),(78,152),(81,167),(82,193),(83,335),(85,339),(87,340),(89,343),(90,169),(91,163),(93,157),(94,175),(95,331),(97,333),(99,337),(101,341),(102,199),(103,177),(105,168),(106,200),(107,287),(109,329),(110,331),(112,330),(113,339),(114,187),(116,173),(117,157),(119,181),(120,287),(122,319),(123,335),(125,352),(126,137),(127,159),(129,163),(131,173),(132,195),(133,299),(134,333),(136,341),(138,337),(139,153),(140,159),(143,165),(144,181),(145,295),(146,320),(148,341),(150,354),(151,131),(152,152),(154,163),(155,167),(156,185),(157,346),(159,341),(161,343),(163,356),(164,142),(165,161),(167,163),(168,173),(169,315),(171,335),(174,343),(176,356),(177,168),(179,163),(180,171),(181,240),(182,300),(183,325),(185,337),(188,347),(189,152),(190,165),(192,171),(193,213),(194,295),(196,331),(198,332),(200,317),(201,181),(203,157),(205,140),(206,11),(207,343),(209,340),(211,347),(212,122),(213,152),(215,150),(217,148),(218,140),(219,4),(220,352),(222,333),(223,331),(224,333),(226,325),(227,209),(228,177),(230,165),(231,175),(232,323),(234,333),(236,337),(238,319),(239,181),(241,163),(243,154),(244,140),(245,38),(246,356),(248,346),(249,341),(251,350),(252,6),(253,165),(255,177),(256,250),(257,319),(259,333),(261,335),(263,319),(264,230)]
dir_b11 = [(0,337),(1,322),(2,219),(3,176),(4,166),(5,158),(6,148),(7,341),(8,337),(11,339),(13,345),(14,346),(15,150),(16,164),(18,166),(19,162),(20,116),(21,354),(22,345),(24,343),(25,347),(26,112),(27,156),(29,156),(31,160),(32,174),(33,339),(35,341),(37,345),(39,354),(40,74),(41,156),(43,152),(44,51),(45,341),(47,337),(49,339),(51,347),(52,230),(53,162),(54,154),(55,116),(56,358),(57,343),(59,333),(61,339),(63,341),(64,335),(65,194),(67,166),(68,162),(69,152),(70,128),(71,358),(72,341),(74,337),(75,336),(76,142),(78,152),(81,166),(82,194),(83,335),(85,337),(87,340),(89,343),(90,174),(91,164),(93,157),(94,176),(95,333),(97,335),(99,339),(101,341),(102,200),(103,178),(105,175),(106,200),(107,284),(108,320),(110,330),(112,330),(113,339),(114,190),(116,170),(117,158),(119,182),(120,284),(122,324),(123,339),(125,353),(126,139),(127,160),(129,166),(131,172),(132,196),(133,300),(134,333),(136,341),(138,335),(139,156),(140,160),(143,166),(144,182),(145,298),(146,320),(148,337),(150,354),(151,133),(152,154),(154,162),(155,168),(156,186),(157,339),(159,340),(161,343),(163,355),(164,146),(165,162),(167,164),(168,174),(169,318),(171,335),(174,345),(176,356),(177,170),(179,164),(180,172),(181,240),(182,300),(183,326),(185,337),(188,348),(189,158),(190,166),(192,170),(193,211),(194,300),(196,333),(198,333),(200,318),(201,182),(203,160),(205,137),(206,3),(207,343),(209,341),(211,346),(212,141),(213,156),(215,150),(217,150),(218,135),(219,354),(221,335),(223,330),(224,335),(226,324),(227,202),(228,174),(230,162),(231,170),(232,324),(234,333),(236,337),(238,316),(239,178),(241,162),(243,152),(244,137),(245,26),(246,354),(248,346),(249,343),(251,351),(252,5),(253,166),(255,182),(256,263),(257,322),(259,335),(261,337),(263,312),(264,223)]

speed_series = [spd_b1, spd_b2, spd_b3, spd_b4, spd_b5, spd_b6, spd_b7, spd_b8, spd_b9, spd_b10, spd_b11]
dir_series = [dir_b2, dir_b3, dir_b4, dir_b5, dir_b6, dir_b7, dir_b8, dir_b9, dir_b10, dir_b11]

# ---------------- layout geometry ----------------
W, H = 5000, 4400
FONT = "DejaVu Sans"
BLUE = "#0000ff"
col_x = [(132 / W, 2433 / W), (2621 / W, 4922 / W)]
ROW_TOP0, ROW_STEP, ROW_H = 220, 380.5, 297


def row_dom(r):
    top = ROW_TOP0 + r * ROW_STEP
    return (1 - (top + ROW_H) / H, 1 - top / H)


def hourly_x(vals):
    return T0 + pd.to_timedelta(np.arange(len(vals)), unit="h")


def pairs_xy(pairs):
    hrs = [p[0] for p in pairs]
    vals = [p[1] for p in pairs]
    return T0 + pd.to_timedelta(hrs, unit="h"), vals


day_ticks = [(T0 + pd.Timedelta(days=i)).strftime("%Y-%m-%d %H:%M:%S") for i in range(12)]
x_range = [T0.strftime("%Y-%m-%d %H:%M:%S"), (T0 + pd.Timedelta(days=11)).strftime("%Y-%m-%d %H:%M:%S")]

fig = go.Figure()
layout = {}
annotations = []


def ax(n, kind):
    return kind if n == 1 else f"{kind}{n}"


# legend placeholders ("Obs" has no data)
fig.add_trace(go.Scatter(x=[None], y=[None], mode="markers", name=obs_name,
                         marker=dict(color="red", size=6), xaxis="x", yaxis="y",
                         legend="legend", showlegend=True, hoverinfo="skip"))
fig.add_trace(go.Scatter(x=[None], y=[None], mode="markers", name=obs_name,
                         marker=dict(color="red", size=6), xaxis="x2", yaxis="y2",
                         legend="legend2", showlegend=True, hoverinfo="skip"))

for r in range(11):
    y0, y1 = row_dom(r)
    for c in range(2):
        n = 2 * r + c + 1
        layout[ax(n, "xaxis")] = dict(
            domain=list(col_x[c]), anchor=ax(n, "y"), type="date", range=x_range,
            tickmode="array", tickvals=day_ticks, ticktext=tick_labels,
            showticklabels=(r == 10), ticks="outside", ticklen=10, tickwidth=2,
            tickcolor="black", ticklabelstandoff=6, automargin=False,
            tickfont=dict(family=FONT, size=26, color="black"),
            showline=True, linecolor="black", linewidth=2, mirror=True,
            showgrid=True, gridcolor="#e6e6e6", gridwidth=1.5, zeroline=False,
        )
        if c == 0:
            yv, yt, yr, ytitle = [0, 0.5, 1.0, 1.5], ["0.0", "0.5", "1.0", "1.5"], [0, 1.5], "Speed (m/s)"
        else:
            yv, yt, yr, ytitle = [0, 100, 200, 300], ["0", "100", "200", "300"], [0, 360], "Direction (deg)"
        layout[ax(n, "yaxis")] = dict(
            domain=[y0, y1], anchor=ax(n, "x"), range=yr, automargin=False,
            tickmode="array", tickvals=yv, ticktext=yt,
            ticks="outside", ticklen=10, tickwidth=2, tickcolor="black", ticklabelstandoff=6,
            tickfont=dict(family=FONT, size=26, color="black"),
            title=dict(text=ytitle, font=dict(family=FONT, size=28, color="black"), standoff=12),
            showline=True, linecolor="black", linewidth=2, mirror=True,
            showgrid=True, gridcolor="#e6e6e6", gridwidth=1.5, zeroline=False,
        )
        if c == 0:
            ttl = f"Bin {r + 1} \u2014 depth={depths[r]:.2f} m (NAVD)"
        else:
            ttl = f"Bin {r + 1} \u2014 Direction"
        annotations.append(dict(
            text=ttl, xref="paper", yref="paper", x=(col_x[c][0] + col_x[c][1]) / 2, y=y1,
            xanchor="center", yanchor="bottom", yshift=8, showarrow=False,
            font=dict(family=FONT, size=28, color="black")))
        if c == 1:
            annotations.append(dict(
                text=stats_text, xref=f"{ax(n, 'x')} domain", yref=f"{ax(n, 'y')} domain",
                x=0.014, y=0.71, xanchor="left", yanchor="middle", showarrow=False,
                bgcolor="rgba(255,255,255,0.6)", borderpad=9, borderwidth=0,
                font=dict(family=FONT, size=22, color="black")))

    sv = speed_series[r]
    fig.add_trace(go.Scatter(
        x=hourly_x(sv), y=sv, mode="lines", name=run_name,
        line=dict(color=BLUE, width=3.2), xaxis=ax(2 * r + 1, "x"), yaxis=ax(2 * r + 1, "y"),
        legend="legend", showlegend=(r == 0)))
    if r == 0:
        dx, dy = hourly_x(dir_b1), dir_b1
    else:
        dx, dy = pairs_xy(dir_series[r - 1])
    fig.add_trace(go.Scatter(
        x=dx, y=dy, mode="lines", name=run_name,
        line=dict(color=BLUE, width=3.2), xaxis=ax(2 * r + 2, "x"), yaxis=ax(2 * r + 2, "y"),
        legend="legend2", showlegend=(r == 0)))

annotations.append(dict(
    text="York Spit LB 22 (cb0201)", xref="paper", yref="paper", x=0.5, y=1 - 38 / H,
    xanchor="center", yanchor="middle", showarrow=False,
    font=dict(family=FONT, size=36, color="black")))

legend_style = dict(bgcolor="rgba(255,255,255,0.8)", bordercolor="#cccccc", borderwidth=2,
                    font=dict(family=FONT, size=22, color="black"),
                    xanchor="right", yanchor="top", tracegroupgap=0)
layout["legend"] = dict(x=(2433 - 11) / W, y=1 - 235 / H, **legend_style)
layout["legend2"] = dict(x=(4922 - 11) / W, y=1 - 235 / H, **legend_style)

fig.update_layout(
    width=W, height=H, margin=dict(l=0, r=0, t=0, b=0, autoexpand=False),
    paper_bgcolor="white", plot_bgcolor="white",
    font=dict(family=FONT, color="black"),
    annotations=annotations, showlegend=True, **layout)

# remove page margins and fit the 5000x4400 figure to the whole window
post_js = """
(function(){
  var gd = document.getElementById('{plot_id}');
  var de = document.documentElement, b = document.body;
  de.style.margin = '0'; de.style.padding = '0'; de.style.overflow = 'hidden';
  b.style.margin = '0'; b.style.padding = '0'; b.style.overflow = 'hidden';
  var sx = window.innerWidth / 5000, sy = window.innerHeight / 4400;
  if (sx > 0 && sy > 0 && (Math.abs(sx - 1) > 0.002 || Math.abs(sy - 1) > 0.002)) {
    gd.style.transformOrigin = '0 0';
    gd.style.transform = 'scale(' + sx + ',' + sy + ')';
  }
})();
"""

fig.write_html("out.html", post_script=post_js, config={"displayModeBar": False})
